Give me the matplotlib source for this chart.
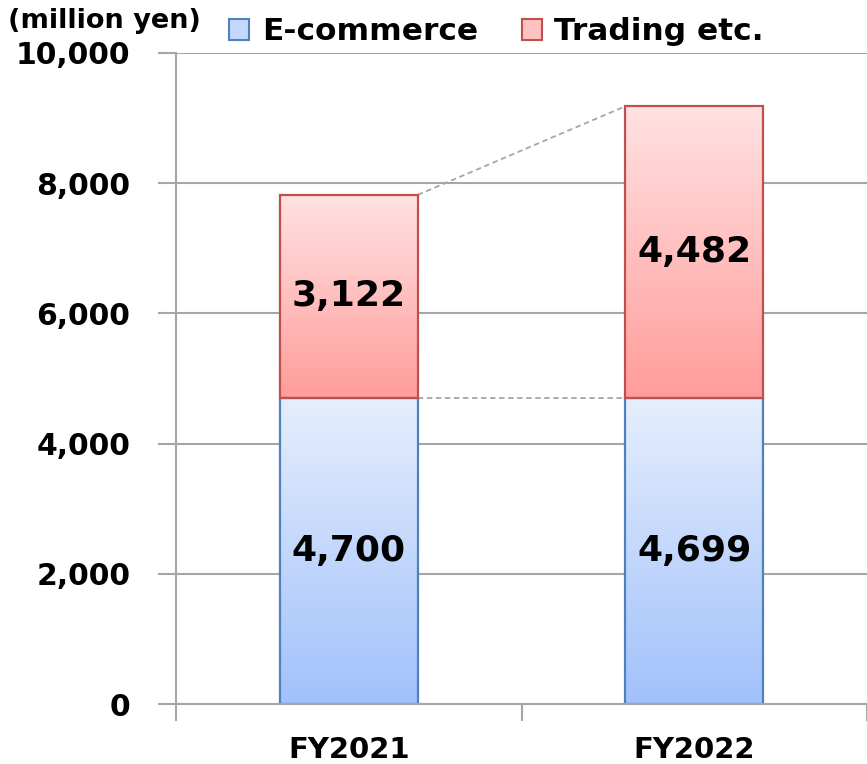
import numpy as np
import matplotlib
matplotlib.use("Agg")
import matplotlib.pyplot as plt
from matplotlib.patches import Rectangle, Patch
from matplotlib.colors import LinearSegmentedColormap

categories = ["FY2021", "FY2022"]
ecommerce = [4700, 4699]
trading = [3122, 4482]
series_names = ["E-commerce", "Trading etc."]
yticks = [0, 2000, 4000, 6000, 8000, 10000]

W, H = 867, 764
fig = plt.figure(figsize=(W / 100, H / 100), dpi=100)
ax = fig.add_axes([176 / W, 60 / H, 691 / W, 651 / H])

grid_c = "#a6a6a6"
font = "DejaVu Sans"

blue_cmap = LinearSegmentedColormap.from_list("b", ["#a2c1fb", "#e5eefd"])
red_cmap = LinearSegmentedColormap.from_list("r", ["#ff9d9b", "#ffe2e2"])
blue_edge = "#4f81bd"
red_edge = "#c0504d"

x = np.arange(len(categories))
width = 0.40
grad = np.linspace(0, 1, 256).reshape(-1, 1)


def grad_bar(xc, bottom, height, cmap, edge):
    rect = Rectangle((xc - width / 2, bottom), width, height, facecolor="none",
                     edgecolor=edge, linewidth=1.6, zorder=4)
    ax.add_patch(rect)
    im = ax.imshow(grad, cmap=cmap, origin="lower", aspect="auto",
                   extent=[xc - width / 2, xc + width / 2, bottom, bottom + height],
                   zorder=3, interpolation="bilinear")
    im.set_clip_path(rect)


for i in range(len(categories)):
    grad_bar(x[i], 0, ecommerce[i], blue_cmap, blue_edge)
    grad_bar(x[i], ecommerce[i], trading[i], red_cmap, red_edge)
    ax.text(x[i], ecommerce[i] / 2, f"{ecommerce[i]:,}", ha="center", va="center",
            fontsize=26, fontweight="bold", family=font, zorder=5)
    ax.text(x[i], ecommerce[i] + trading[i] / 2, f"{trading[i]:,}", ha="center",
            va="center", fontsize=26, fontweight="bold", family=font, zorder=5)

# connector lines
tot = [e + t for e, t in zip(ecommerce, trading)]
ax.plot([x[0] + width / 2, x[1] - width / 2], [tot[0], tot[1]], ls=(0, (3, 2)),
        color=grid_c, lw=1.3, zorder=2)
ax.plot([x[0] + width / 2, x[1] - width / 2], [ecommerce[0], ecommerce[1]],
        ls=(0, (3, 2)), color=grid_c, lw=1.3, zorder=2)

ax.set_xlim(-0.5, 1.49)
ax.set_ylim(0, 10000)
ax.set_yticks(yticks)
ax.set_yticklabels([f"{v:,}" for v in yticks], fontsize=21.5, fontweight="bold", family=font)
for v in yticks:
    ax.axhline(v, color=grid_c, lw=1.5, zorder=1)
ax.tick_params(axis="y", length=13, width=1.5, color=grid_c, pad=20)

ax.set_xticks(x)
ax.set_xticklabels(categories, fontsize=21, fontweight="bold", family=font)
ax.tick_params(axis="x", length=0, pad=23)
ax.set_xticks([-0.5, 0.5, 1.5], minor=True)
ax.tick_params(axis="x", which="minor", length=12, width=1.5, color=grid_c)

for s in ["top", "right"]:
    ax.spines[s].set_visible(False)
ax.spines["left"].set_color(grid_c)
ax.spines["left"].set_linewidth(1.5)
ax.spines["bottom"].set_color(grid_c)
ax.spines["bottom"].set_linewidth(1.5)
ax.spines["bottom"].set_zorder(6)

fig.text(8 / W, 1 - 21 / H, "(million yen)", fontsize=19.5, fontweight="bold",
         family=font, ha="left", va="center")

handles = [Patch(facecolor="#c4d8fc", edgecolor=blue_edge, lw=1.5),
           Patch(facecolor="#ffc2c1", edgecolor=red_edge, lw=1.5)]
fig.legend(handles, series_names, loc="center left", bbox_to_anchor=(229 / W, 1 - 32 / H),
           ncol=2, frameon=False, prop={"family": font, "weight": "bold", "size": 22.5},
           handlelength=0.65, handleheight=0.65, handletextpad=0.4, columnspacing=1.4,
           borderpad=0, borderaxespad=0)

fig.savefig("out.png", dpi=100)
